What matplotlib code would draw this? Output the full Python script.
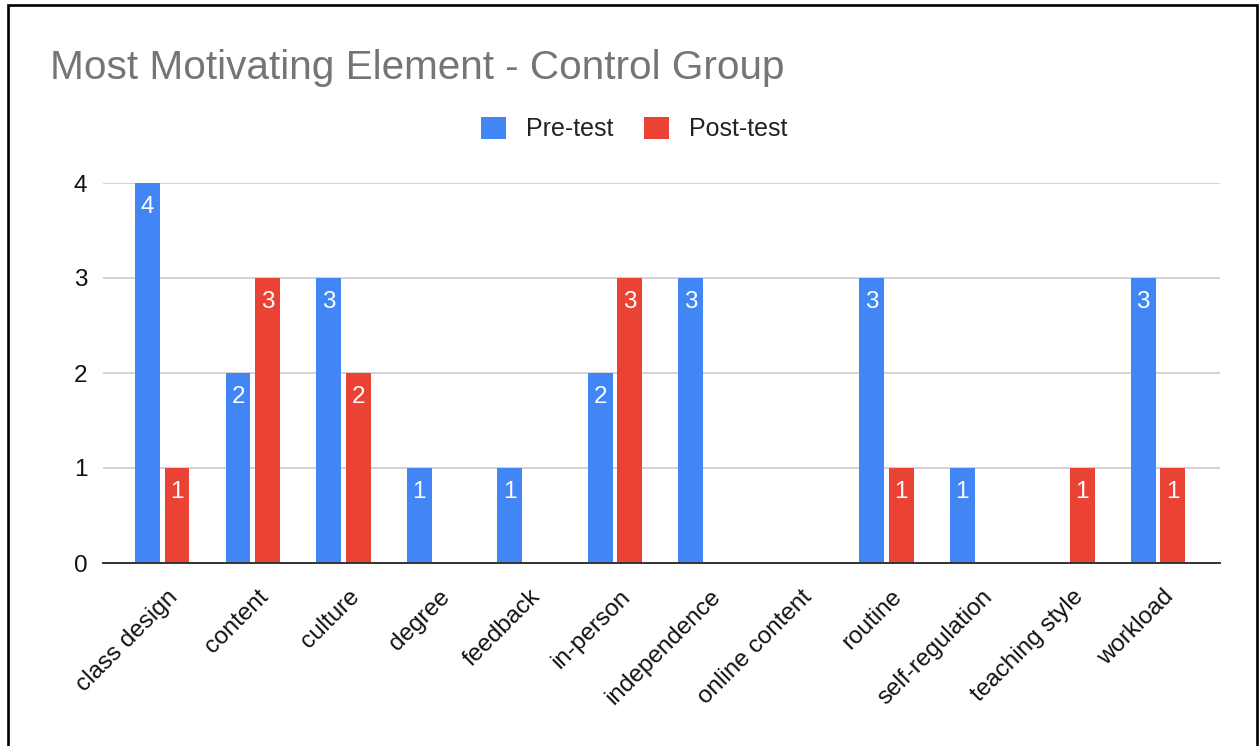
import numpy as np
import matplotlib.pyplot as plt
from matplotlib.patches import Rectangle
from matplotlib.transforms import ScaledTranslation

plt.rcParams['font.family'] = ['Liberation Sans', 'DejaVu Sans']

categories = ['class design', 'content', 'culture', 'degree', 'feedback', 'in-person',
              'independence', 'online content', 'routine', 'self-regulation',
              'teaching style', 'workload']
pre_test = [4, 2, 3, 1, 1, 2, 3, 0, 3, 1, 0, 3]
post_test = [1, 3, 2, 0, 0, 3, 0, 0, 1, 0, 1, 1]
y_ticks = [0, 1, 2, 3, 4]

BLUE = '#4285F4'
RED = '#EA4335'


def draw_labels(ax, xs, vals):
    for x, v in zip(xs, vals):
        if v > 0:
            ax.annotate(str(v), (x, v), xytext=(0, -24), textcoords='offset pixels',
                        ha='center', va='center', color='white', fontsize=17.5)


def process():
    fig = plt.figure(figsize=(12.59, 7.46), dpi=100)
    W, H = 1259, 746

    # frame around the whole chart (as cropped from a document)
    fig.patches.append(Rectangle((8 / W, -0.05), (1257 - 8) / W, 1.05 - 4.5 / H,
                                 transform=fig.transFigure, fill=False,
                                 edgecolor='black', linewidth=1.9))

    ax = fig.add_axes([102.5 / W, 1 - 563 / H, (1219.5 - 102.5) / W, 380 / H])
    x = np.arange(len(categories))
    w = 0.276
    off = 0.163
    ax.bar(x - off, pre_test, w, color=BLUE, label='Pre-test', zorder=3)
    ax.bar(x + off, post_test, w, color=RED, label='Post-test', zorder=3)
    draw_labels(ax, x - off, pre_test)
    draw_labels(ax, x + off, post_test)

    ax.set_xlim(-0.66, len(categories) - 1 + 0.68)
    ax.set_ylim(0, 4)
    ax.set_yticks(y_ticks)
    ax.grid(axis='y', color='#cccccc', linewidth=1.2, zorder=0)
    for s in ['top', 'right', 'left']:
        ax.spines[s].set_visible(False)
    ax.spines['bottom'].set_color('#333333')
    ax.spines['bottom'].set_linewidth(1.4)
    ax.spines['bottom'].set_zorder(4)
    ax.tick_params(axis='y', length=0, pad=11, labelsize=17.5, labelcolor='#111111')
    ax.tick_params(axis='x', length=0, pad=22, labelsize=17.5, labelcolor='#111111')
    ax.set_xticks(x)
    ax.set_xticklabels(categories, rotation=45, ha='right', va='center',
                       rotation_mode='anchor')
    shift = ScaledTranslation(9 / 72, 0, fig.dpi_scale_trans)
    for lab in ax.get_xticklabels():
        lab.set_transform(lab.get_transform() + shift)

    fig.text(50 / W, 1 - 68 / H, 'Most Motivating Element - Control Group',
             fontsize=29.2, color='#757575', ha='left', va='center')

    fig.legend(loc='center', bbox_to_anchor=(634 / W, 1 - 129 / H), ncol=2,
               frameon=False, fontsize=18, handlelength=1.0, handleheight=1.0,
               handletextpad=0.8, columnspacing=1.25, labelcolor='#222222')

    fig.savefig('out.png', dpi=100)


if __name__ == '__main__':
    process()
